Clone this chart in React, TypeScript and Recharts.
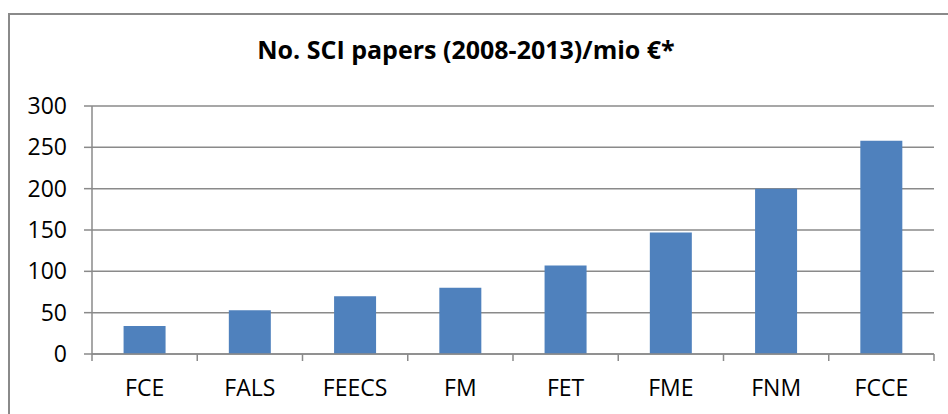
import { Bar, BarChart, CartesianGrid, XAxis, YAxis } from 'recharts'

const categories = ['FCE', 'FALS', 'FEECS', 'FM', 'FET', 'FME', 'FNM', 'FCCE']
const papersPerMio = [34, 53, 70, 80, 107, 147, 200, 258]
const yTicks = [0, 50, 100, 150, 200, 250, 300]
const title = 'No. SCI papers (2008-2013)/mio €*'

const data = categories.map((name, i) => ({ name, value: papersPerMio[i] }))

const WIDTH = 948
const HEIGHT = 414
const PLOT_LEFT = 92
const PLOT_RIGHT = 934
const band = (PLOT_RIGHT - PLOT_LEFT) / categories.length
const axisGray = '#8a8a8a'
const font = '"Open Sans", sans-serif'

function CategoryTick(props: any) {
  const { x, y, payload, index } = props
  const left = x - band / 2
  const last = index === categories.length - 1
  return (
    <g>
      <line x1={left} y1={y} x2={left} y2={y + 7} stroke={axisGray} strokeWidth={1.5} />
      {last && <line x1={x + band / 2} y1={y} x2={x + band / 2} y2={y + 7} stroke={axisGray} strokeWidth={1.5} />}
      <text x={x} y={y + 42} textAnchor="middle" fill="#000" fontSize={23} fontFamily={font}>
        {payload.value}
      </text>
    </g>
  )
}

export default function App() {
  return (
    <div style={{ position: 'fixed', left: 0, top: 0, width: WIDTH, height: HEIGHT, overflow: 'hidden', background: '#fff' }}>
      <div
        style={{
          position: 'absolute',
          left: 8,
          top: 13,
          width: 1000,
          height: 500,
          border: `2px solid ${axisGray}`,
          boxSizing: 'border-box',
        }}
      />
      <div
        style={{
          position: 'absolute',
          left: 0,
          top: 34,
          width: 932,
          textAlign: 'center',
          fontFamily: font,
          fontWeight: 700,
          fontSize: 25,
          lineHeight: '30px',
          color: '#000',
        }}
      >
        {title}
      </div>
      <div style={{ position: 'absolute', left: 0, top: 0 }}>
        <BarChart
          width={WIDTH}
          height={HEIGHT}
          data={data}
          margin={{ top: 106, right: WIDTH - PLOT_RIGHT, bottom: 20, left: 0 }}
          barCategoryGap="30%"
        >
          <CartesianGrid vertical={false} stroke={axisGray} strokeWidth={1.5} />
          <XAxis
            dataKey="name"
            height={40}
            interval={0}
            tickSize={0}
            tickMargin={0}
            tickLine={false}
            axisLine={{ stroke: axisGray, strokeWidth: 1.5 }}
            tick={<CategoryTick />}
          />
          <YAxis
            width={PLOT_LEFT}
            domain={[0, 300]}
            ticks={yTicks}
            interval={0}
            tickSize={8}
            tickMargin={17}
            axisLine={{ stroke: axisGray, strokeWidth: 1.5 }}
            tickLine={{ stroke: axisGray, strokeWidth: 1.5 }}
            tick={{ fill: '#000', fontSize: 23, fontFamily: font }}
          />
          <Bar dataKey="value" fill="#4F81BD" isAnimationActive={false} />
        </BarChart>
      </div>
    </div>
  )
}
